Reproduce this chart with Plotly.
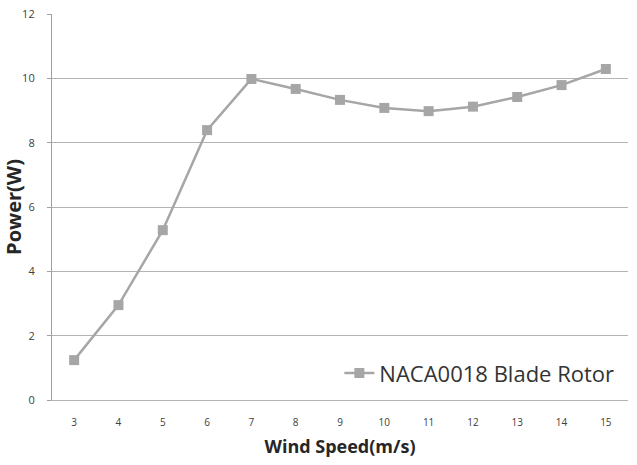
import plotly.graph_objects as go

wind_speed = [3, 4, 5, 6, 7, 8, 9, 10, 11, 12, 13, 14, 15]
power = [1.24, 2.95, 5.28, 8.39, 9.98, 9.67, 9.33, 9.08, 8.98, 9.12, 9.42, 9.79, 10.29]
series_name = "NACA0018 Blade Rotor"

fig = go.Figure()
fig.add_trace(go.Scatter(
    x=wind_speed, y=power, mode="lines+markers", name=series_name,
    line=dict(color="#a6a6a6", width=2.5),
    marker=dict(symbol="square", size=10, color="#a6a6a6"),
))

fig.update_layout(
    width=637, height=465,
    margin=dict(l=52, r=9, t=14, b=65),
    paper_bgcolor="white", plot_bgcolor="white",
    font=dict(family="Open Sans, sans-serif", color="#404040"),
    showlegend=True,
    legend=dict(x=0.985, y=0.015, xanchor="right", yanchor="bottom",
                font=dict(size=22, color="#333333"), bgcolor="rgba(255,255,255,0)",
                itemwidth=30, tracegroupgap=0),
    xaxis=dict(
        range=[2.5, 15.5], tickmode="array", tickvals=wind_speed,
        showgrid=False, zeroline=False, showline=True, linecolor="#b3b3b3", linewidth=1.2,
        tickfont=dict(size=10, color="#404040"), ticklabelstandoff=13, ticks="",
        title=dict(text="<b>Wind Speed(m/s)</b>", font=dict(size=18, color="#262626"), standoff=12),
    ),
    yaxis=dict(
        range=[0, 12], tickvals=[0, 2, 4, 6, 8, 10, 12], automargin=False,
        showgrid=True, gridcolor="#b3b3b3", gridwidth=1.2,
        zeroline=False, showline=True, linecolor="#a0a0a0", linewidth=1.2,
        ticks="outside", ticklen=4, tickcolor="#a0a0a0",
        tickfont=dict(size=11, color="#404040"), ticklabelstandoff=10,
        title=dict(text="<b>Power(W)</b>", font=dict(size=20, color="#262626"), standoff=0),
    ),
)

fig.write_html("out.html")
